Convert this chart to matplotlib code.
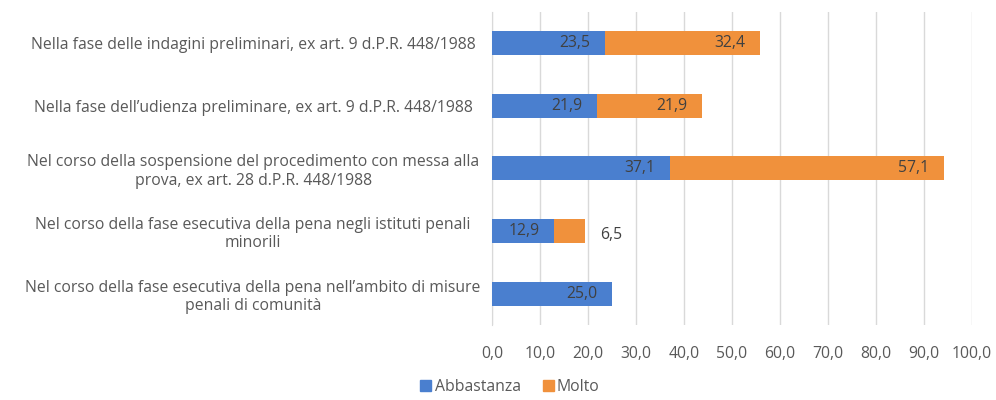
import numpy as np
import matplotlib.pyplot as plt
from matplotlib.patches import Patch

categorie = [
    "Nella fase delle indagini preliminari, ex art. 9 d.P.R. 448/1988",
    "Nella fase dell\u2019udienza preliminare, ex art. 9 d.P.R. 448/1988",
    "Nel corso della sospensione del procedimento con messa alla\nprova, ex art. 28 d.P.R. 448/1988",
    "Nel corso della fase esecutiva della pena negli istituti penali\nminorili",
    "Nel corso della fase esecutiva della pena nell\u2019ambito di misure\npenali di comunit\u00e0",
]
abbastanza = [23.5, 21.9, 37.1, 12.9, 25.0]
molto = [32.4, 21.9, 57.1, 6.5, 0.0]
tick_vals = [0, 10, 20, 30, 40, 50, 60, 70, 80, 90, 100]

blu = "#4a7fcf"
arancio = "#f0913c"
grigio = "#595959"
fs = 11.3

plt.rcParams['font.family'] = ['Open Sans', 'DejaVu Sans']

fig = plt.figure(figsize=(9.96, 4.0), dpi=100)
ax = fig.add_axes([0.494, 0.1875, 0.482, 0.783])

y = np.arange(len(categorie))
h = 0.38
ax.barh(y, abbastanza, height=h, color=blu, zorder=3)
ax.barh(y, molto, left=abbastanza, height=h, color=arancio, zorder=3)

for i in range(len(categorie)):
    a = abbastanza[i]
    m = molto[i]
    ax.text(a - 3.0, y[i], f"{a:.1f}".replace(".", ","), ha="right", va="center",
            fontsize=fs, color="#404040", zorder=4)
    if m > 0:
        if m >= 8:
            ax.text(a + m - 3.2, y[i], f"{m:.1f}".replace(".", ","), ha="right",
                    va="center", fontsize=fs, color="#404040", zorder=4)
        else:
            ax.text(a + m + 3.1, y[i] + 0.065, f"{m:.1f}".replace(".", ","), ha="left",
                    va="center", fontsize=fs, color="#404040", zorder=4)

ax.set_xlim(0, 100)
ax.set_ylim(len(categorie) - 0.5, -0.5)
ax.set_xticks(tick_vals)
ax.set_xticklabels([f"{v:.1f}".replace(".", ",") for v in tick_vals], fontsize=fs, color=grigio)
ax.set_yticks(y)
ax.set_yticklabels(categorie, fontsize=fs, color=grigio, ha="center", multialignment="center")
ax.tick_params(axis="y", length=0, pad=172)
ax.tick_params(axis="x", length=0, pad=15)
ax.grid(axis="x", color="#d9d9d9", linewidth=1, zorder=0)
for s in ["top", "right", "bottom"]:
    ax.spines[s].set_visible(False)
ax.spines["left"].set_color("#d9d9d9")

handles = [Patch(color=blu, label="Abbastanza"), Patch(color=arancio, label="Molto")]
fig.legend(handles=handles, loc="center", bbox_to_anchor=(0.512, 0.032), ncol=2, frameon=False,
           fontsize=fs, labelcolor=grigio, handlelength=0.7, handleheight=0.7,
           handletextpad=0.2, columnspacing=1.4, borderpad=0.2)

fig.savefig("out.png", dpi=100)
